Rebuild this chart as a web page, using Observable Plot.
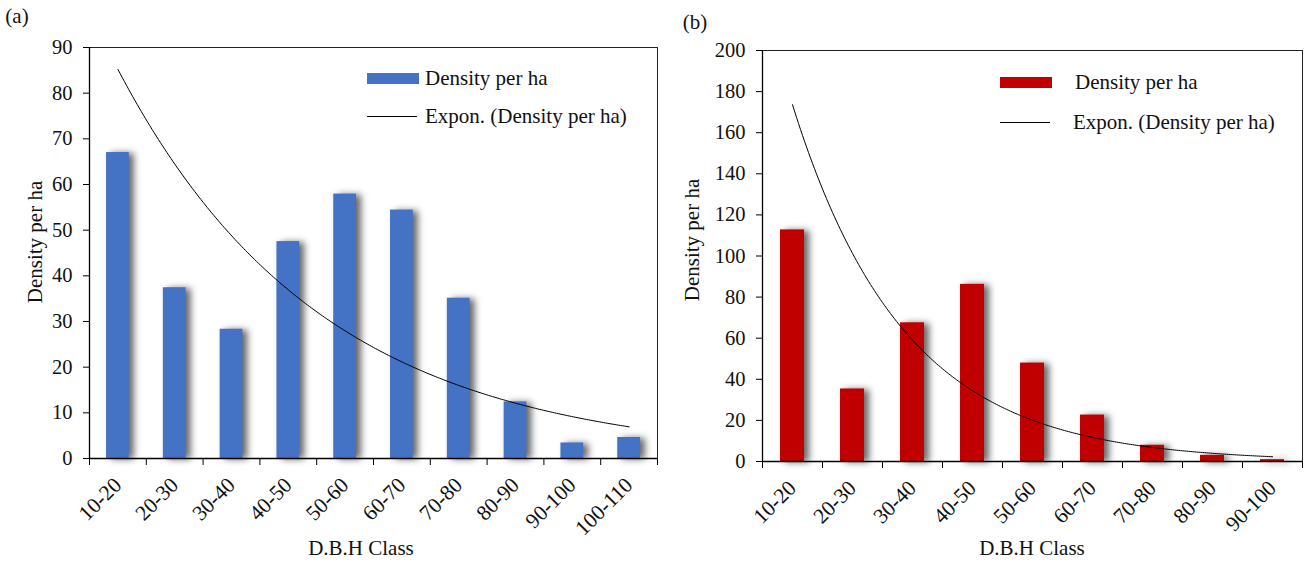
<!DOCTYPE html>
<html>
<head>
<meta charset="utf-8">
<script src="https://cdn.jsdelivr.net/npm/d3@7"></script>
<script src="https://cdn.jsdelivr.net/npm/@observablehq/plot@0.6"></script>
<style>
  body { margin: 0; background: #fff; font-family: "Liberation Serif", "Times New Roman", serif; color: #111; }
  #wrap { position: relative; width: 1304px; height: 563px; overflow: hidden; }
  .panel { position: absolute; top: 0; }
  .txt { position: absolute; font-size: 21px; white-space: nowrap; line-height: 1; }
  .center { transform: translate(-50%, -50%); }
  .vert { transform: translate(-50%, -50%) rotate(-90deg); }
  .swatch { position: absolute; }
  .legline { position: absolute; height: 0; border-top: 1.2px solid #000; }
</style>
</head>
<body>
<div id="wrap"></div>
<script>
// Diameter-at-breast-height classes and stem density per hectare
const classesA = ["10-20", "20-30", "30-40", "40-50", "50-60", "60-70", "70-80", "80-90", "90-100", "100-110"];
const densityA = [67, 37.4, 28.3, 47.5, 57.9, 54.4, 35.1, 12.4, 3.4, 4.6];

const classesB = ["10-20", "20-30", "30-40", "40-50", "50-60", "60-70", "70-80", "80-90", "90-100"];
const densityB = [112.7, 35.3, 67.5, 86.2, 47.9, 22.6, 7.9, 3.0, 0.9];

const yTicksA = [0, 10, 20, 30, 40, 50, 60, 70, 80, 90];
const yTicksB = [0, 20, 40, 60, 80, 100, 120, 140, 160, 180, 200];

const seriesName = "Density per ha";
const trendName = "Expon. (Density per ha)";
const xTitle = "D.B.H Class";

// Least-squares exponential trendline y = a·e^(b·k), k = 1..n (fit on ln y)
function expTrend(values) {
  const ks = values.map((_, i) => i + 1);
  const ls = values.map(v => Math.log(v));
  const mk = d3.mean(ks), ml = d3.mean(ls);
  const b = d3.sum(ks, (k, i) => (k - mk) * (ls[i] - ml)) / d3.sum(ks, k => (k - mk) ** 2);
  const a = Math.exp(ml - b * mk);
  const n = values.length;
  return d3.range(0, 241).map(j => {
    const k = 1 + (n - 1) * j / 240;
    return {x: k - 0.5, y: a * Math.exp(b * k)};
  });
}

function panel({classes, values, color, yTicks, width, marginLeft, marginRight, marginTop, marginBottom}) {
  const n = classes.length;
  const rows = classes.map((c, i) => ({i, c, v: values[i]}));
  const trend = expTrend(values);
  const svg = Plot.plot({
    width, height: 563,
    marginLeft, marginRight, marginTop, marginBottom,
    style: {fontFamily: "'Liberation Serif', 'Times New Roman', serif", color: "#111", background: "transparent"},
    x: {domain: [0, n], axis: null},
    y: {domain: [0, d3.max(yTicks)], axis: null},
    marks: [
      Plot.rectY(rows, {x1: d => d.i + 0.3, x2: d => d.i + 0.7, y: "v", fill: color}),
      Plot.line(trend, {x: "x", y: "y", stroke: "#000", strokeWidth: 1}),
      Plot.frame({stroke: "#222", strokeWidth: 1}),
      Plot.ruleY([0], {stroke: "#000", strokeWidth: 1.6}),
      Plot.ruleX([0], {stroke: "#000", strokeWidth: 1.3}),
      Plot.axisY({ticks: yTicks, tickSize: 6, tickPadding: 11, fontSize: 20.5, label: null, stroke: "#000"}),
      Plot.axisX({ticks: d3.range(0, n + 1), tickSize: 7, tickFormat: () => "", label: null, stroke: "#000"}),
      Plot.axisX({ticks: rows.map(d => d.i + 0.5), tickSize: 0, tickPadding: 23, tickRotate: -45,
                  tickFormat: t => classes[Math.round(t - 0.5)], fontSize: 21.5, label: null})
    ]
  });
  const bars = svg.querySelector('g[aria-label="rect"]');
  if (bars) bars.style.filter = "drop-shadow(5px 1px 3.5px rgba(0,0,0,0.6))";
  return svg;
}

const wrap = document.getElementById("wrap");

function place(el, left) {
  el.classList.add("panel");
  el.style.left = left + "px";
  wrap.appendChild(el);
}

function text(str, x, y, cls) {
  const d = document.createElement("div");
  d.className = "txt " + cls;
  d.textContent = str;
  d.style.left = x + "px";
  d.style.top = y + "px";
  wrap.appendChild(d);
  return d;
}

function legend(x, y1, y2, color, textX1, textX2) {
  const sw = document.createElement("div");
  sw.className = "swatch";
  Object.assign(sw.style, {left: x + "px", top: (y1 - 5.5) + "px", width: "52px", height: "11px", background: color});
  wrap.appendChild(sw);
  const ln = document.createElement("div");
  ln.className = "legline";
  Object.assign(ln.style, {left: x + "px", top: y2 + "px", width: "50px"});
  wrap.appendChild(ln);
  const t1 = text(seriesName, textX1, y1, "");
  t1.style.transform = "translateY(-50%)";
  const t2 = text(trendName, textX2, y2, "");
  t2.style.transform = "translateY(-50%)";
}

// Panel (a)
place(panel({classes: classesA, values: densityA, color: "#4472C4", yTicks: yTicksA,
             width: 660, marginLeft: 89, marginRight: 3, marginTop: 47, marginBottom: 105}), 0);
// Panel (b)
place(panel({classes: classesB, values: densityB, color: "#C00000", yTicks: yTicksB,
             width: 644, marginLeft: 102, marginRight: 2, marginTop: 50, marginBottom: 102}), 660);

text("(a)", 17, 16, "center");
text("(b)", 695, 22, "center");
text(seriesName, 35, 242, "vert");
text(seriesName, 692, 240, "vert");
text(xTitle, 361, 548, "center");
text(xTitle, 1032, 548, "center");
legend(367, 78, 116, "#4472C4", 425, 425);
legend(1000, 82, 122, "#C00000", 1075, 1073);
</script>
</body>
</html>
